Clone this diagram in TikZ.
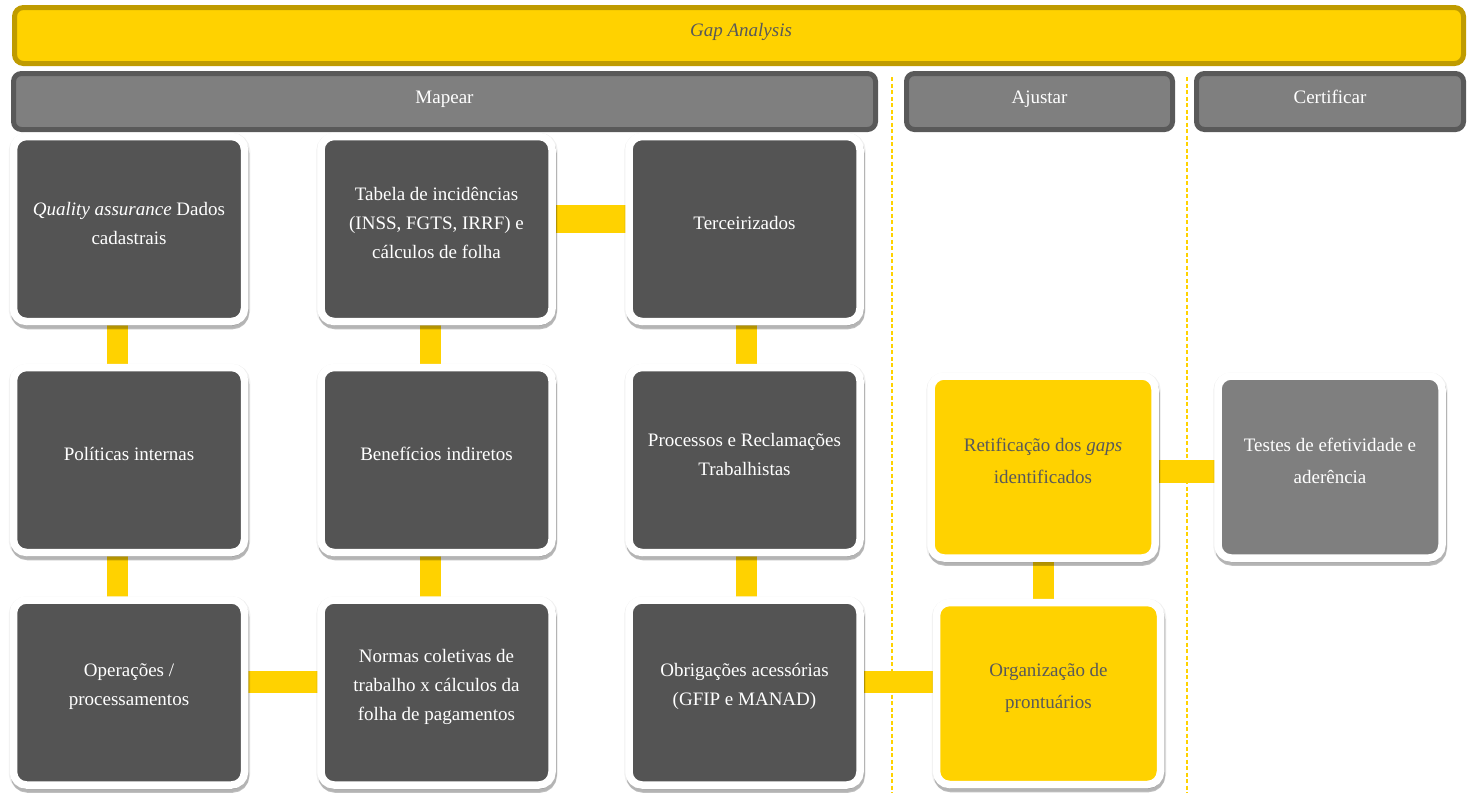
\documentclass[tikz,border=0pt]{standalone}
\usepackage{fontspec}
\setmainfont{Liberation Serif}
\usetikzlibrary{shadows,backgrounds}
\definecolor{gyellow}{HTML}{FFD200}
\definecolor{ggold}{HTML}{BF9B00}
\definecolor{gbar}{HTML}{7F7F7F}
\definecolor{gbarline}{HTML}{595959}
\definecolor{gdark}{HTML}{545454}
\definecolor{gtext}{HTML}{595959}
\newcommand{\bodyfont}{\fontsize{19}{29}\selectfont}
\newcommand{\wideFont}{\fontsize{19}{32}\selectfont}
\tikzset{
  banner/.style={draw=ggold, fill=gyellow, line width=5pt, rounded corners=9pt,
    minimum width=1449pt, minimum height=56pt, inner sep=0pt},
  phase/.style={draw=gbarline, fill=gbar, line width=5pt, rounded corners=8pt,
    minimum height=56pt, inner sep=0pt},
  cardbase/.style={draw=white, line width=7.5pt, rounded corners=13pt, inner sep=0pt,
    general shadow={draw=black, fill=black, line width=10.5pt, opacity=0.06,
      shadow xshift=0.5pt, shadow yshift=-1.5pt},
    general shadow={draw=black, fill=black, line width=7.5pt, opacity=0.25,
      shadow xshift=1pt, shadow yshift=-4pt}},
  darkcard/.style={cardbase, fill=gdark, minimum width=231pt, minimum height=185pt},
  yellowcard/.style={cardbase, fill=gyellow, minimum width=224pt, minimum height=182pt},
  greycard/.style={cardbase, fill=gbar, minimum width=224pt, minimum height=182pt},
  darktext/.style={text=white, align=center, font=\bodyfont, yshift=6pt},
  lighttext/.style={text=white, align=center, font=\wideFont, yshift=6pt},
  ytext/.style={text=gtext, align=center, font=\wideFont, yshift=6pt},
  phasetext/.style={text=white, font=\bodyfont, text height=13pt, text depth=4pt, yshift=3pt},
  conn/.style={draw=gyellow, line width=21pt},
  connh/.style={draw=gyellow, line width=22pt},
  divider/.style={draw=gyellow, line width=1.6pt, dash pattern=on 4pt off 2.5pt}
}
\begin{document}
\begin{tikzpicture}[x=1pt,y=-1pt]
\useasboundingbox (0,0) rectangle (1470,793);

% header banner
\node[banner] (gap) at (739,35.5) {};
\node[text=gtext, font=\fontsize{19}{23}\selectfont\itshape] (gaptxt) at (741,32) {Gap Analysis};

% phase bars
\node[phase, minimum width=862pt, label={[phasetext]center:Mapear}] (mapear) at (444.5,101.5) {};
\node[phase, minimum width=266pt, label={[phasetext]center:Ajustar}] (ajustar) at (1039.5,101.5) {};
\node[phase, minimum width=267pt, label={[phasetext]center:Certificar}] (certificar) at (1330,101.5) {};

% Mapear cards
\node[darkcard, label={[darktext]center:\textit{Quality assurance} Dados\\cadastrais}] (b11) at (129,229) {};
\node[darkcard, label={[darktext]center:Tabela de incidências\\(INSS, FGTS, IRRF) e\\cálculos de folha}] (b12) at (436.5,229) {};
\node[darkcard, label={[darktext]center:Terceirizados}] (b13) at (744.5,229) {};

\node[darkcard, label={[darktext]center:Políticas internas}] (b21) at (129,460) {};
\node[darkcard, label={[darktext]center:Benefícios indiretos}] (b22) at (436.5,460) {};
\node[darkcard, label={[darktext]center:Processos e Reclamações\\Trabalhistas}] (b23) at (744.5,460) {};

\node[darkcard, label={[darktext]center:Operações /\\processamentos}] (b31) at (129,692.5) {};
\node[darkcard, label={[darktext]center:Normas coletivas de\\trabalho x cálculos da\\folha de pagamentos}] (b32) at (436.5,692.5) {};
\node[darkcard, label={[darktext]center:Obrigações acessórias\\(GFIP e MANAD)}] (b33) at (744.5,692.5) {};

% Ajustar / Certificar cards
\node[yellowcard, label={[ytext]center:Retificação dos \textit{gaps}\\identificados}] (ret) at (1043,467) {};
\node[yellowcard, label={[ytext]center:Organização de\\prontuários}] (org) at (1048.5,693.5) {};
\node[greycard, label={[lighttext]center:Testes de efetividade e\\aderência}] (tes) at (1330,467) {};

% divider end points
\coordinate (d1t) at (892,77);
\coordinate (d1b) at (892,793);
\coordinate (d2t) at (1187,77);
\coordinate (d2b) at (1187,793);

\begin{scope}[on background layer]
  % vertical connectors
  \draw[conn] ([xshift=-11.5pt]b11.center) -- ([xshift=-11.5pt]b21.center);
  \draw[conn] ([xshift=-11.5pt]b21.center) -- ([xshift=-11.5pt]b31.center);
  \draw[conn] ([xshift=-6pt]b12.center) -- ([xshift=-6pt]b22.center);
  \draw[conn] ([xshift=-6pt]b22.center) -- ([xshift=-6pt]b32.center);
  \draw[conn] ([xshift=2pt]b13.center) -- ([xshift=2pt]b23.center);
  \draw[conn] ([xshift=2pt]b23.center) -- ([xshift=2pt]b33.center);
  \draw[conn] ([xshift=0.5pt]ret.center) -- ([xshift=0.5pt]ret.center |- org.center);
  % horizontal connectors
  \draw[connh, line width=28pt] ([yshift=10pt]b12.center) -- ([yshift=10pt]b13.center);
  \draw[connh] ([yshift=10.5pt]b31.center) -- ([yshift=10.5pt]b32.center);
  \draw[connh] ([yshift=10.5pt]b33.center) -- ([yshift=10.5pt]b33.center -| org.center);
  \draw[connh, line width=23pt] ([yshift=-4.5pt]ret.center) -- ([yshift=-4.5pt]tes.center);
  % dividers
  \draw[divider] (d1t) -- (d1b);
  \draw[divider] (d2t) -- (d2b);
\end{scope}
\end{tikzpicture}
\end{document}
